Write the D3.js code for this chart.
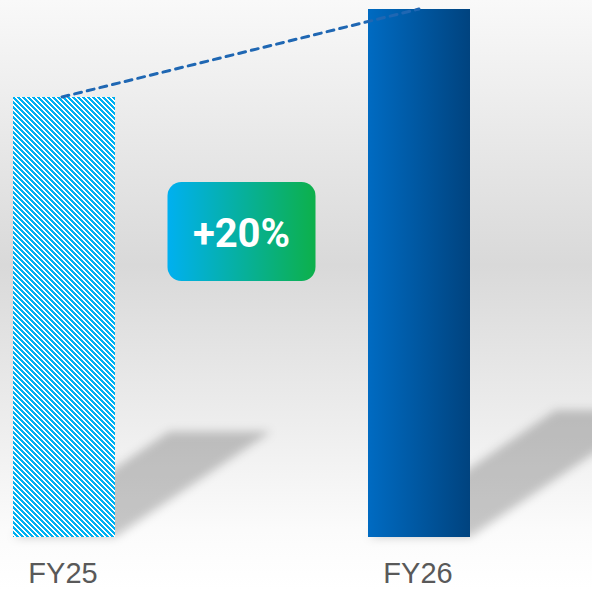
<!DOCTYPE html>
<html>
<head>
  <meta charset="utf-8">
  <title>FY25 vs FY26</title>
  <script src="https://d3js.org/d3.v7.min.js"></script>
  <style>
    html, body { margin: 0; padding: 0; overflow: hidden; }
    #chart { width: 592px; height: 589px; }
  </style>
</head>
<body>
  <div id="chart"></div>
  <script>
    // chart values
    var categories = ['FY25', 'FY26'];
    var values = [100, 120];
    var growthLabel = '+20%';

    var width = 592;
    var height = 589;
    var baseY = 537;

    var svg = d3.select('#chart').append('svg')
      .attr('width', width)
      .attr('height', height);

    var defs = svg.append('defs');

    // background wash
    var bg = defs.append('linearGradient').attr('id', 'bg')
      .attr('x1', 0).attr('y1', 0).attr('x2', 0).attr('y2', 1);
    bg.append('stop').attr('offset', '0%').attr('stop-color', '#f9f9f9');
    bg.append('stop').attr('offset', '45%').attr('stop-color', '#d9d9d9');
    bg.append('stop').attr('offset', '90%').attr('stop-color', '#fbfbfb');
    bg.append('stop').attr('offset', '100%').attr('stop-color', '#ffffff');

    // hatch for FY25 (downward diagonal, 5px repeat)
    var hp = 5;
    var hatch = defs.append('pattern').attr('id', 'hatch')
      .attr('patternUnits', 'userSpaceOnUse')
      .attr('width', hp).attr('height', hp);
    hatch.append('rect').attr('width', hp).attr('height', hp).attr('fill', '#ffffff');
    d3.range(hp).forEach(function(r) {
      [r, r + 1, r + 2].forEach(function(c) {
        hatch.append('rect')
          .attr('x', c % hp).attr('y', r)
          .attr('width', 1).attr('height', 1)
          .attr('shape-rendering', 'crispEdges')
          .attr('fill', '#00b0f0');
      });
    });

    // solid bar gradient
    var barGrad = defs.append('linearGradient').attr('id', 'barGrad')
      .attr('x1', 0).attr('y1', 0).attr('x2', 1).attr('y2', 0);
    barGrad.append('stop').attr('offset', '0%').attr('stop-color', '#006bc2');
    barGrad.append('stop').attr('offset', '100%').attr('stop-color', '#00437f');

    // badge gradient
    var badgeGrad = defs.append('linearGradient').attr('id', 'badgeGrad')
      .attr('x1', 0).attr('y1', 0).attr('x2', 1).attr('y2', 0);
    badgeGrad.append('stop').attr('offset', '0%').attr('stop-color', '#00b0f0');
    badgeGrad.append('stop').attr('offset', '100%').attr('stop-color', '#0db04b');

    var blur = defs.append('filter').attr('id', 'blur')
      .attr('x', '-20%').attr('y', '-20%').attr('width', '140%').attr('height', '140%');
    blur.append('feGaussianBlur').attr('stdDeviation', 5);

    svg.append('rect')
      .attr('width', width).attr('height', height)
      .attr('fill', 'url(#bg)');

    var x = d3.scaleBand()
      .domain(categories)
      .range([13, 470])
      .paddingInner(0.7127)
      .paddingOuter(0);

    var y = d3.scaleLinear()
      .domain([0, 120])
      .range([baseY, 9]);

    // cast shadows (parallelogram skewed up-right)
    svg.append('g').selectAll('polygon')
      .data(categories)
      .enter().append('polygon')
      .attr('points', function(d, i) {
        var h = baseY - y(values[i]);
        var dx = h * 0.355, dy = -h * 0.24;
        var x0 = x(d), x1 = x(d) + x.bandwidth();
        return [[x0, baseY], [x1, baseY], [x1 + dx, baseY + dy], [x0 + dx, baseY + dy]]
          .map(function(p) { return p.join(','); }).join(' ');
      })
      .attr('fill', '#000')
      .attr('fill-opacity', 0.21)
      .attr('filter', 'url(#blur)');

    // bars
    svg.append('g').selectAll('rect')
      .data(categories)
      .enter().append('rect')
      .attr('x', function(d) { return x(d); })
      .attr('y', function(d, i) { return y(values[i]); })
      .attr('width', x.bandwidth())
      .attr('height', function(d, i) { return baseY - y(values[i]); })
      .attr('shape-rendering', 'crispEdges')
      .attr('fill', function(d, i) { return i === 0 ? 'url(#hatch)' : 'url(#barGrad)'; });

    // dashed connector
    var cx = function(i) { return x(categories[i]) + x.bandwidth() / 2; };
    svg.append('line')
      .attr('x1', cx(0) - 2).attr('y1', y(values[0]))
      .attr('x2', cx(1)).attr('y2', y(values[1]))
      .attr('stroke', '#1f67b3')
      .attr('stroke-width', 3)
      .attr('stroke-linecap', 'round')
      .attr('stroke-dasharray', '7,6');

    // growth badge
    var bx = (cx(0) + cx(1)) / 2;
    var by = 231.5;
    var badge = svg.append('g').attr('transform', 'translate(' + bx + ',' + by + ')');
    badge.append('rect')
      .attr('x', -74).attr('y', -49.5)
      .attr('width', 148).attr('height', 99)
      .attr('rx', 14)
      .attr('fill', 'url(#badgeGrad)');
    badge.append('text')
      .attr('text-anchor', 'middle')
      .attr('y', 15)
      .attr('fill', '#ffffff')
      .style('font-family', 'Roboto, Arial, sans-serif')
      .style('font-weight', 'bold')
      .style('font-size', '40px')
      .text(growthLabel);

    // category labels
    svg.append('g').selectAll('text')
      .data(categories)
      .enter().append('text')
      .attr('x', function(d, i) { return cx(i) - 1; })
      .attr('y', 583)
      .attr('text-anchor', 'middle')
      .attr('fill', '#595959')
      .style('font-family', '"Liberation Sans", Arial, sans-serif')
      .style('font-size', '29px')
      .text(function(d) { return d; });
  </script>
</body>
</html>
